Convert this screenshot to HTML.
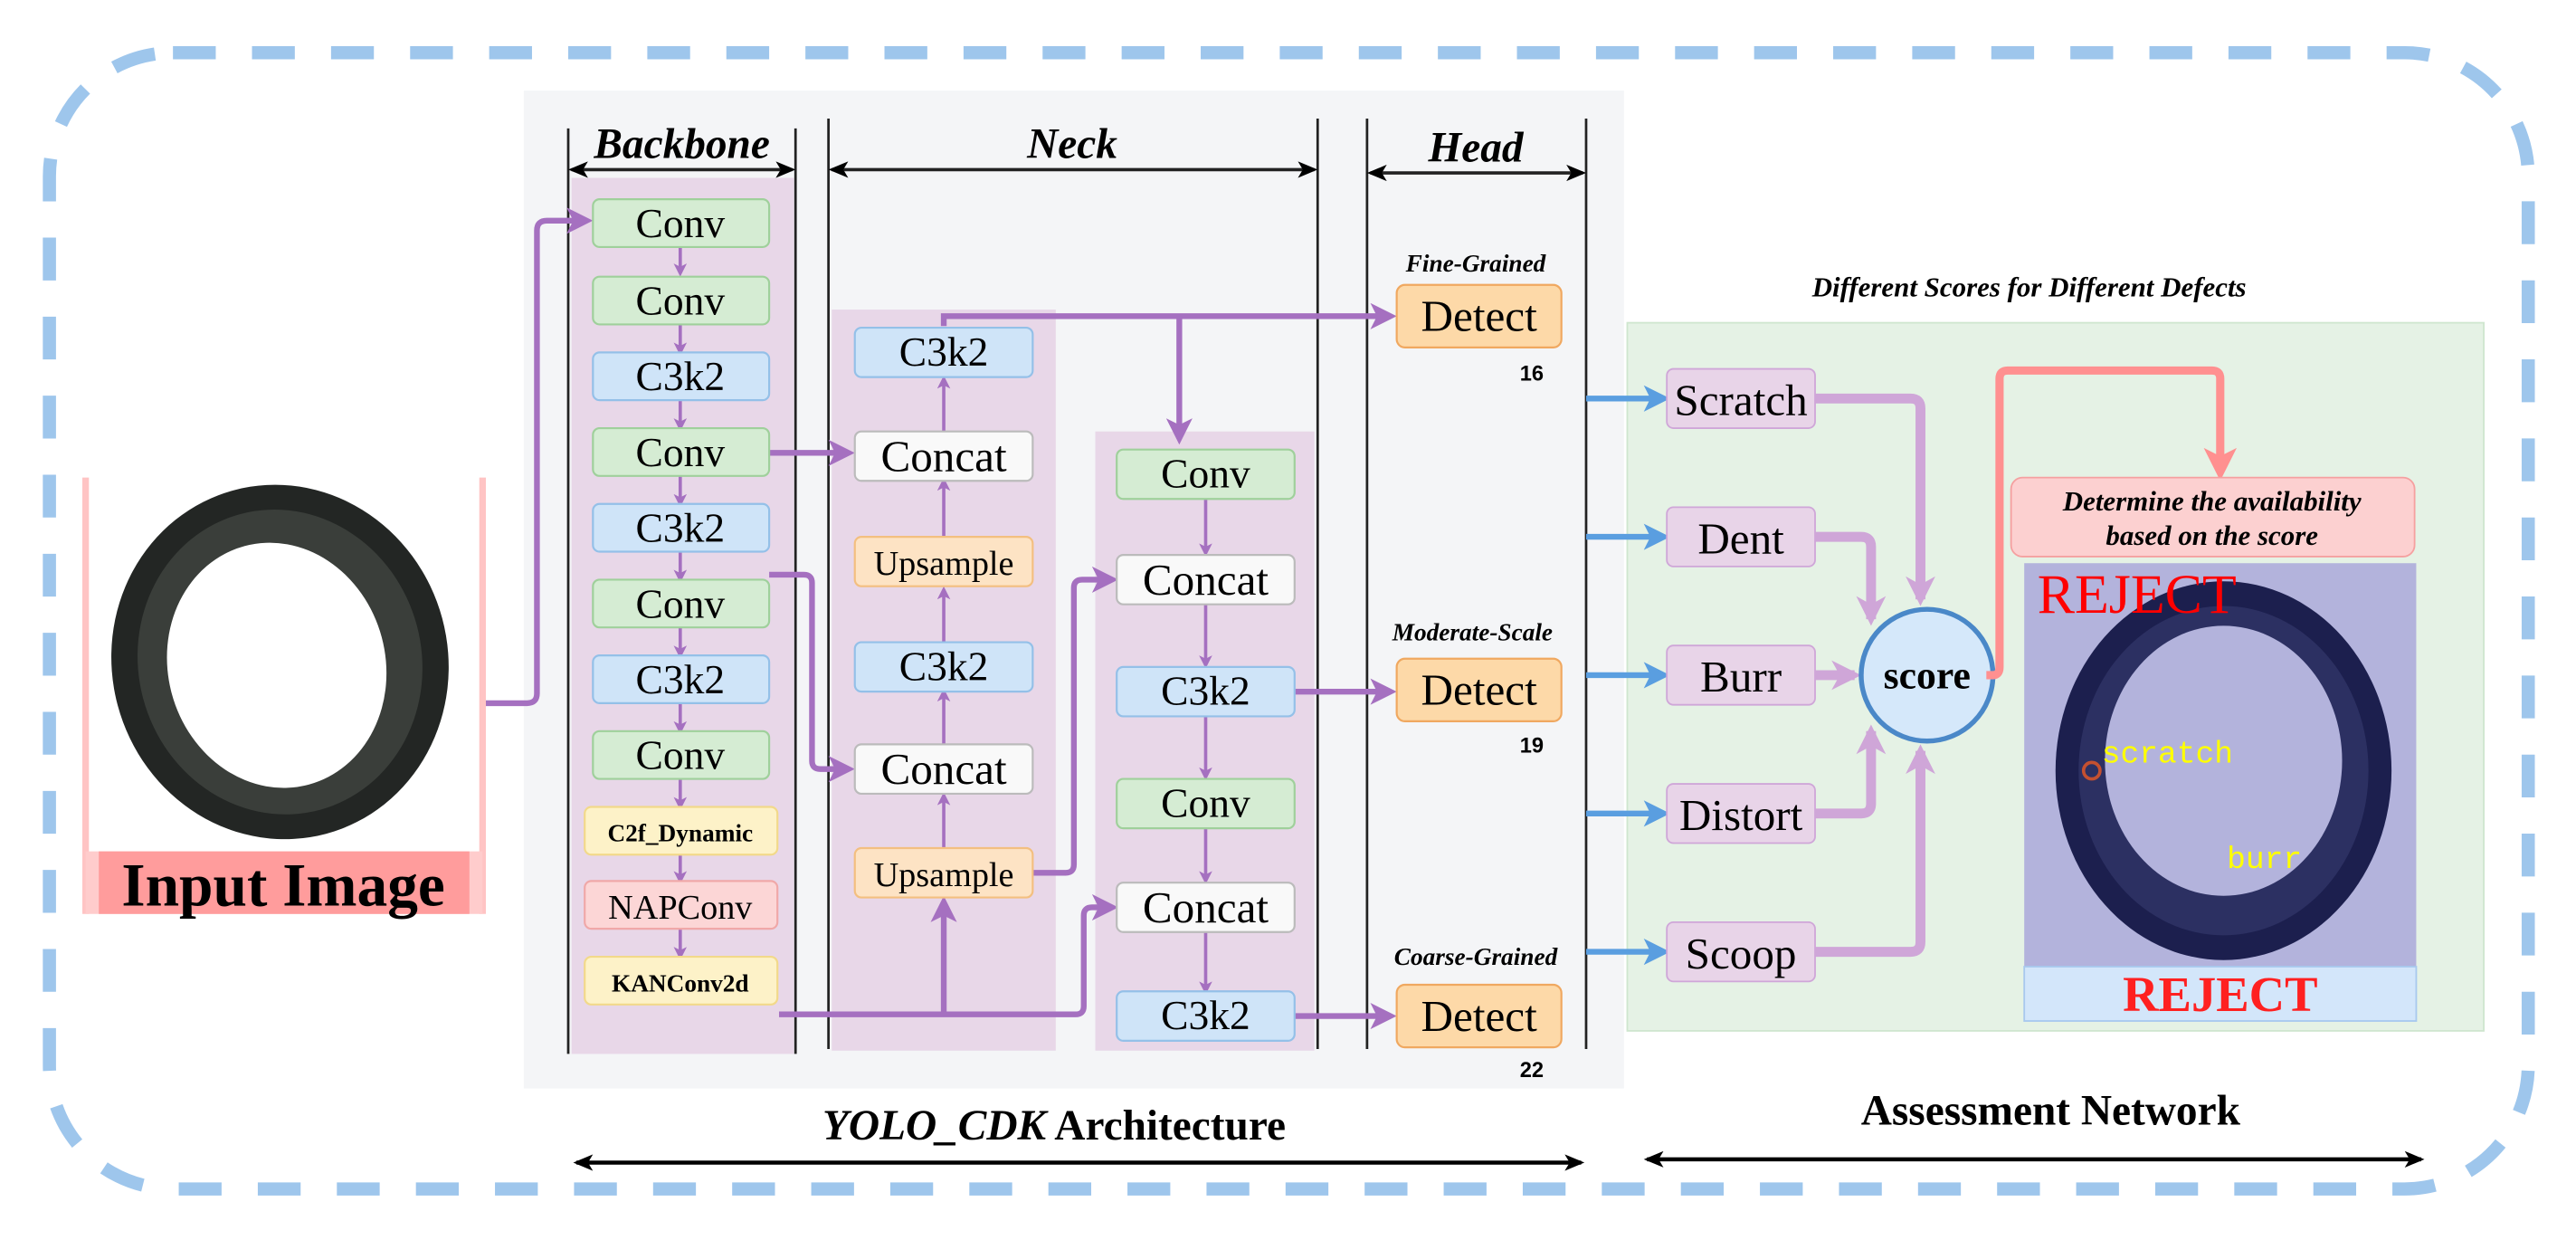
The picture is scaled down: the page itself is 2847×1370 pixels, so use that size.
<!DOCTYPE html>
<html><head><meta charset="utf-8"><style>
html,body{margin:0;padding:0;background:#fff;}
svg{display:block;}
svg text{font-family:"Liberation Serif","Noto Serif CJK SC","DejaVu Serif",serif !important;}
svg text.mono{font-family:"Liberation Mono",monospace !important;}
svg text.sans{font-family:"Liberation Sans",sans-serif !important;}
</style></head><body>
<svg width="2847" height="1370" viewBox="0 0 1564 753" preserveAspectRatio="none" xmlns="http://www.w3.org/2000/svg" font-family="Liberation Serif, serif">
<defs>
<marker id="pa" markerWidth="8" markerHeight="8" refX="6" refY="4" orient="auto" markerUnits="userSpaceOnUse"><path d="M0,0 L8,4 L0,8 L2,4z" fill="#a570c0"/></marker>
<marker id="pb" markerWidth="16" markerHeight="16" refX="12" refY="8" orient="auto" markerUnits="userSpaceOnUse"><path d="M0,0 L16,8 L0,16 L4,8z" fill="#a570c0"/></marker>
<marker id="la" markerWidth="18" markerHeight="18" refX="14" refY="9" orient="auto" markerUnits="userSpaceOnUse"><path d="M0,0 L18,9 L0,18 L5,9z" fill="#cfa6d8"/></marker>
<marker id="ba" markerWidth="16" markerHeight="16" refX="12" refY="8" orient="auto" markerUnits="userSpaceOnUse"><path d="M0,0 L16,8 L0,16 L4,8z" fill="#5a9ee0"/></marker>
<marker id="ra" markerWidth="20" markerHeight="20" refX="14" refY="10" orient="auto" markerUnits="userSpaceOnUse"><path d="M0,0 L20,10 L0,20 L5,10z" fill="#ff9090"/></marker>
<marker id="ka" markerWidth="12" markerHeight="10" refX="10" refY="5" orient="auto-start-reverse" markerUnits="userSpaceOnUse"><path d="M0,0 L12,5 L0,10 L3,5z" fill="#000"/></marker>
</defs>
<rect x="30" y="32" width="1505" height="690" rx="75" fill="none" stroke="#9ec6ec" stroke-width="8" stroke-dasharray="26,22"/>
<rect x="50" y="290" width="245" height="265" fill="#fff"/>
<line x1="52" y1="290" x2="52" y2="555" stroke="#ffc4c4" stroke-width="4"/>
<line x1="293" y1="290" x2="293" y2="555" stroke="#ffc4c4" stroke-width="4"/>
<ellipse cx="170" cy="402" rx="102" ry="108" fill="#232624" transform="rotate(-15 170 402)"/>
<ellipse cx="170" cy="402" rx="86" ry="93" fill="#3a3e3a" transform="rotate(-15 170 402)"/>
<ellipse cx="168" cy="404" rx="66" ry="75" fill="#fff" transform="rotate(-15 168 404)"/>
<rect x="52" y="517" width="241" height="38" fill="#ffcccc"/>
<rect x="60" y="517" width="225" height="38" fill="#ff9c9c"/>
<text x="172" y="550" font-size="37" font-weight="bold" text-anchor="middle">Input Image</text>
<rect x="318" y="55" width="668" height="606" fill="#f4f5f7"/>
<rect x="347" y="108" width="135" height="532" fill="#e8d7e8"/>
<rect x="505" y="188" width="136" height="450" fill="#e8d7e8"/>
<rect x="665" y="262" width="133" height="376" fill="#e8d7e8"/>
<g stroke="#222" stroke-width="1.5">
<line x1="345" y1="78" x2="345" y2="640"/><line x1="483" y1="78" x2="483" y2="640"/>
<line x1="503" y1="72" x2="503" y2="637"/><line x1="800" y1="72" x2="800" y2="637"/>
<line x1="830" y1="72" x2="830" y2="637"/><line x1="963" y1="72" x2="963" y2="637"/>
<line x1="347" y1="103" x2="481" y2="103" marker-start="url(#ka)" marker-end="url(#ka)" stroke-width="2"/>
<line x1="505" y1="103" x2="798" y2="103" marker-start="url(#ka)" marker-end="url(#ka)" stroke-width="2"/>
<line x1="832" y1="105" x2="961" y2="105" marker-start="url(#ka)" marker-end="url(#ka)" stroke-width="2"/>
</g>
<g font-style="italic" font-weight="bold" font-size="26" text-anchor="middle">
<text x="414" y="96">Backbone</text><text x="651" y="96">Neck</text><text x="896" y="98">Head</text>
</g>
<g fill="none" stroke="#a570c0" stroke-width="3.5">
<path d="M295,427 H320 Q326,427 326,421 V140 Q326,134 332,134 H356" marker-end="url(#pb)"/>
<path d="M467,275 H515" marker-end="url(#pb)"/>
<path d="M467,349 H488 Q493,349 493,354 V462 Q493,467 498,467 H515" marker-end="url(#pb)"/>
<path d="M473,616 H653 Q658,616 658,611 V556 Q658,551 663,551 H675" marker-end="url(#pb)"/>
<path d="M573,616 V548" marker-end="url(#pb)"/>
<path d="M627,530 H647 Q652,530 652,525 V357 Q652,352 657,352 H675" marker-end="url(#pb)"/>
<path d="M573,198 V192 H844" marker-end="url(#pb)"/>
<path d="M716,192 V266" marker-end="url(#pb)"/>
<path d="M786,420 H844" marker-end="url(#pb)"/>
<path d="M786,617 H844" marker-end="url(#pb)"/>
</g>
<g fill="none" stroke="#a570c0" stroke-width="2">
<path d="M413,149 V166" marker-end="url(#pa)"/><path d="M413,197 V214" marker-end="url(#pa)"/>
<path d="M413,243 V260" marker-end="url(#pa)"/><path d="M413,289 V306" marker-end="url(#pa)"/>
<path d="M413,335 V352" marker-end="url(#pa)"/><path d="M413,381 V398" marker-end="url(#pa)"/>
<path d="M413,427 V444" marker-end="url(#pa)"/><path d="M413,473 V490" marker-end="url(#pa)"/>
<path d="M413,519 V535" marker-end="url(#pa)"/><path d="M413,564 V581" marker-end="url(#pa)"/>
<path d="M573,262 V230" marker-end="url(#pa)"/><path d="M573,326 V292" marker-end="url(#pa)"/>
<path d="M573,390 V358" marker-end="url(#pa)"/><path d="M573,452 V420" marker-end="url(#pa)"/>
<path d="M573,515 V483" marker-end="url(#pa)"/>
<path d="M732,302 V336" marker-end="url(#pa)"/><path d="M732,367 V404" marker-end="url(#pa)"/>
<path d="M732,435 V472" marker-end="url(#pa)"/><path d="M732,503 V535" marker-end="url(#pa)"/>
<path d="M732,566 V602" marker-end="url(#pa)"/>
</g>
<g font-size="25" text-anchor="middle" stroke-width="1.2">
<rect x="360" y="121" width="107" height="29" rx="4" fill="#d5ecd3" stroke="#9fd09b"/><text x="413" y="144">Conv</text>
<rect x="360" y="168" width="107" height="29" rx="4" fill="#d5ecd3" stroke="#9fd09b"/><text x="413" y="191">Conv</text>
<rect x="360" y="214" width="107" height="29" rx="4" fill="#cfe4f8" stroke="#94c0e8"/><text x="413" y="237">C3k2</text>
<rect x="360" y="260" width="107" height="29" rx="4" fill="#d5ecd3" stroke="#9fd09b"/><text x="413" y="283">Conv</text>
<rect x="360" y="306" width="107" height="29" rx="4" fill="#cfe4f8" stroke="#94c0e8"/><text x="413" y="329">C3k2</text>
<rect x="360" y="352" width="107" height="29" rx="4" fill="#d5ecd3" stroke="#9fd09b"/><text x="413" y="375">Conv</text>
<rect x="360" y="398" width="107" height="29" rx="4" fill="#cfe4f8" stroke="#94c0e8"/><text x="413" y="421">C3k2</text>
<rect x="360" y="444" width="107" height="29" rx="4" fill="#d5ecd3" stroke="#9fd09b"/><text x="413" y="467">Conv</text>
<rect x="355" y="490" width="117" height="29" rx="4" fill="#fdf2c8" stroke="#f2d98a"/><text x="413" y="511" font-size="15" font-weight="bold">C2f_Dynamic</text>
<rect x="355" y="535" width="117" height="29" rx="4" fill="#fcd6d6" stroke="#f0a8a8"/><text x="413" y="558" font-size="21">NAPConv</text>
<rect x="355" y="581" width="117" height="29" rx="4" fill="#fdf2c8" stroke="#f2d98a"/><text x="413" y="602" font-size="15" font-weight="bold">KANConv2d</text>
<rect x="519" y="199" width="108" height="30" rx="4" fill="#cfe4f8" stroke="#94c0e8"/><text x="573" y="222">C3k2</text>
<rect x="519" y="262" width="108" height="30" rx="4" fill="#f9f9f9" stroke="#bbb"/><text x="573" y="286" font-size="27">Concat</text>
<rect x="519" y="326" width="108" height="30" rx="4" fill="#fde3c4" stroke="#f3bf80"/><text x="573" y="349" font-size="21">Upsample</text>
<rect x="519" y="390" width="108" height="30" rx="4" fill="#cfe4f8" stroke="#94c0e8"/><text x="573" y="413">C3k2</text>
<rect x="519" y="452" width="108" height="30" rx="4" fill="#f9f9f9" stroke="#bbb"/><text x="573" y="476" font-size="27">Concat</text>
<rect x="519" y="515" width="108" height="30" rx="4" fill="#fde3c4" stroke="#f3bf80"/><text x="573" y="538" font-size="21">Upsample</text>
<rect x="678" y="273" width="108" height="30" rx="4" fill="#d5ecd3" stroke="#9fd09b"/><text x="732" y="296">Conv</text>
<rect x="678" y="337" width="108" height="30" rx="4" fill="#f9f9f9" stroke="#bbb"/><text x="732" y="361" font-size="27">Concat</text>
<rect x="678" y="405" width="108" height="30" rx="4" fill="#cfe4f8" stroke="#94c0e8"/><text x="732" y="428">C3k2</text>
<rect x="678" y="473" width="108" height="30" rx="4" fill="#d5ecd3" stroke="#9fd09b"/><text x="732" y="496">Conv</text>
<rect x="678" y="536" width="108" height="30" rx="4" fill="#f9f9f9" stroke="#bbb"/><text x="732" y="560" font-size="27">Concat</text>
<rect x="678" y="602" width="108" height="30" rx="4" fill="#cfe4f8" stroke="#94c0e8"/><text x="732" y="625">C3k2</text>
<rect x="848" y="173" width="100" height="38" rx="5" fill="#fdd9a8" stroke="#f0a860"/><text x="898" y="201" font-size="27">Detect</text>
<rect x="848" y="400" width="100" height="38" rx="5" fill="#fdd9a8" stroke="#f0a860"/><text x="898" y="428" font-size="27">Detect</text>
<rect x="848" y="598" width="100" height="38" rx="5" fill="#fdd9a8" stroke="#f0a860"/><text x="898" y="626" font-size="27">Detect</text>
</g>
<g font-size="15" font-style="italic" font-weight="bold" text-anchor="middle">
<text x="896" y="165">Fine-Grained</text><text x="894" y="389">Moderate-Scale</text><text x="896" y="586">Coarse-Grained</text>
</g>
<g font-size="13" font-weight="bold" text-anchor="middle">
<text class="sans" x="930" y="231">16</text><text class="sans" x="930" y="457">19</text><text class="sans" x="930" y="654">22</text>
</g>
<text x="640" y="692" font-size="26" font-weight="bold" text-anchor="middle"><tspan font-style="italic">YOLO_CDK</tspan>   Architecture</text>
<line x1="350" y1="706" x2="960" y2="706" stroke="#000" stroke-width="2.5" marker-start="url(#ka)" marker-end="url(#ka)"/>
<text x="1232" y="180" font-size="17" font-style="italic" font-weight="bold" text-anchor="middle">Different Scores for Different Defects</text>
<rect x="988" y="196" width="520" height="430" fill="#e5f2e5" stroke="#cfe6cf"/>
<g fill="none" stroke="#5a9ee0" stroke-width="3.5">
<path d="M963,242 H1010" marker-end="url(#ba)"/><path d="M963,326 H1010" marker-end="url(#ba)"/>
<path d="M963,410 H1010" marker-end="url(#ba)"/><path d="M963,494 H1010" marker-end="url(#ba)"/>
<path d="M963,578 H1010" marker-end="url(#ba)"/>
</g>
<g fill="none" stroke="#cfa6d8" stroke-width="6">
<path d="M1102,242 H1160 Q1166,242 1166,248 V364" marker-end="url(#la)"/>
<path d="M1102,326 H1130 Q1136,326 1136,332 V376" marker-end="url(#la)"/>
<path d="M1102,410 H1126" marker-end="url(#la)"/>
<path d="M1102,494 H1130 Q1136,494 1136,488 V444" marker-end="url(#la)"/>
<path d="M1102,578 H1160 Q1166,578 1166,572 V456" marker-end="url(#la)"/>
</g>
<g font-size="27" text-anchor="middle">
<rect x="1012" y="224" width="90" height="36" rx="4" fill="#e8d4e8" stroke="#cfa6d8"/><text x="1057" y="252">Scratch</text>
<rect x="1012" y="308" width="90" height="36" rx="4" fill="#e8d4e8" stroke="#cfa6d8"/><text x="1057" y="336">Dent</text>
<rect x="1012" y="392" width="90" height="36" rx="4" fill="#e8d4e8" stroke="#cfa6d8"/><text x="1057" y="420">Burr</text>
<rect x="1012" y="476" width="90" height="36" rx="4" fill="#e8d4e8" stroke="#cfa6d8"/><text x="1057" y="504">Distort</text>
<rect x="1012" y="560" width="90" height="36" rx="4" fill="#e8d4e8" stroke="#cfa6d8"/><text x="1057" y="588">Scoop</text>
</g>
<circle cx="1170" cy="410" r="40" fill="#d5e8fa" stroke="#4a88c8" stroke-width="3"/>
<text x="1170" y="418" font-size="24" font-weight="bold" text-anchor="middle">score</text>
<path d="M1206,410 H1210 Q1214,410 1214,405 V230 Q1214,225 1219,225 H1343 Q1348,225 1348,230 V286" fill="none" stroke="#ff9090" stroke-width="5" marker-end="url(#ra)"/>
<rect x="1221" y="290" width="245" height="48" rx="7" fill="#fcd0d0" stroke="#f5a0a0"/>
<text x="1343" y="310" font-size="17" font-style="italic" font-weight="bold" text-anchor="middle">Determine the availability</text>
<text x="1343" y="331" font-size="17" font-style="italic" font-weight="bold" text-anchor="middle">based on the score</text>
<rect x="1229" y="342" width="238" height="245" fill="#b3b3dc"/>
<ellipse cx="1350" cy="468" rx="102" ry="115" fill="#1c1f4e"/>
<ellipse cx="1350" cy="468" rx="88" ry="100" fill="#2c3062"/>
<ellipse cx="1350" cy="462" rx="72" ry="82" fill="#b3b3dc"/>
<circle cx="1270" cy="468" r="5" fill="none" stroke="#c45030" stroke-width="2"/>
<text class="mono" x="1276" y="463" font-size="19" fill="#ffff00">scratch</text>
<text class="mono" x="1352" y="527" font-size="19" fill="#ffff00">burr</text>
<text x="1237" y="372" font-size="34" fill="#ff0000">REJECT</text>
<rect x="1229" y="587" width="238" height="33" fill="#d3e6fa" stroke="#a8c8ee"/>
<text x="1348" y="614" font-size="30" font-weight="bold" fill="#ff2020" text-anchor="middle">REJECT</text>
<text x="1245" y="683" font-size="26" font-weight="bold" text-anchor="middle">Assessment Network</text>
<line x1="1000" y1="704" x2="1470" y2="704" stroke="#000" stroke-width="2.5" marker-start="url(#ka)" marker-end="url(#ka)"/>
</svg>
</body></html>
